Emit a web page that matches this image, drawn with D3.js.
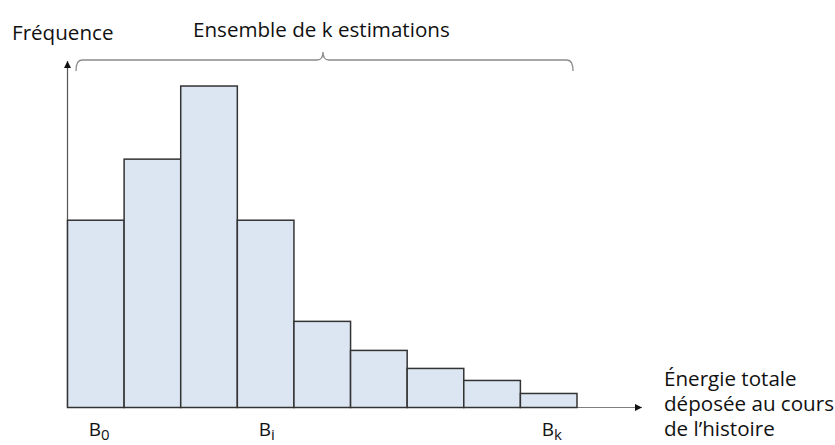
<!DOCTYPE html>
<html><head><meta charset="utf-8">
<script src="https://cdn.jsdelivr.net/npm/d3@7"></script>
<style>
body{margin:0;background:#fff;}
text{font-family:"Open Sans",sans-serif;fill:#111;}
</style></head>
<body><svg id="c" width="835" height="445"></svg>
<script>
const bins = ["b0","b1","b2","b3","b4","b5","b6","b7","b8"];
const frequences = [187, 248, 321, 187, 86, 57, 39, 27, 14];
const binLabels = [{bin:"b0", sub:"0"}, {bin:"b3", sub:"i"}, {bin:"b8", sub:"k"}];
const yMax = 345;

const svg = d3.select("#c");
const x0 = 67.5, x1 = 577, yBase = 407.5, yTop = 62;
const x = d3.scaleBand().domain(bins).range([x0, x1]).padding(0);
const y = d3.scaleLinear().domain([0, yMax]).range([yBase, yTop]);

const defs = svg.append("defs");
defs.append("marker").attr("id","arr").attr("viewBox","0 0 10 10").attr("refX",10).attr("refY",5)
  .attr("markerWidth",7).attr("markerHeight",7).attr("markerUnits","userSpaceOnUse").attr("orient","auto")
  .append("path").attr("d","M0,0L10,5L0,10z").attr("fill","#111");

// axes
svg.append("line").attr("x1",x0).attr("y1",yBase).attr("x2",642).attr("y2",yBase)
  .attr("stroke","#7f7f7f").attr("stroke-width",1.2).attr("marker-end","url(#arr)");
svg.append("line").attr("x1",x0).attr("y1",yBase).attr("x2",x0).attr("y2",yTop-1)
  .attr("stroke","#555").attr("stroke-width",1.2).attr("marker-end","url(#arr)");

// bars
svg.selectAll("rect.bar").data(frequences).enter().append("rect").attr("class","bar")
  .attr("x",(d,i)=>x(bins[i])).attr("width",x.bandwidth())
  .attr("y",d=>y(d)).attr("height",d=>yBase-y(d))
  .attr("fill","#dce6f2").attr("stroke","#333").attr("stroke-width",1.5);

// brace
const bl = 76, br = 573, bm = 323, by = 60;
svg.append("path").attr("d",
  `M${bl},${by+11} Q${bl},${by} ${bl+6},${by} L${bm-6},${by} Q${bm},${by} ${bm},${by-8} Q${bm},${by} ${bm+6},${by} L${br-6},${by} Q${br},${by} ${br},${by+11}`)
  .attr("fill","none").attr("stroke","#8a8a8a").attr("stroke-width",1.3);

// texts
svg.append("text").attr("x",12).attr("y",39.5).attr("font-size",20.6).text("Fréquence");
svg.append("text").attr("x",193).attr("y",37).attr("font-size",20.6).text("Ensemble de k estimations");
const rt = svg.append("text").attr("x",664).attr("font-size",20.6);
["Énergie totale","déposée au cours","de l’histoire"].forEach((s,i)=>{
  rt.append("tspan").attr("x",664).attr("y",386+i*25).text(s);
});
binLabels.forEach(l=>{
  const t = svg.append("text").attr("x", x(l.bin)+x.bandwidth()/2-7).attr("y",436).attr("font-size",19);
  t.append("tspan").text("B");
  t.append("tspan").attr("font-size",15).attr("dy",4).text(l.sub);
});
</script></body></html>
